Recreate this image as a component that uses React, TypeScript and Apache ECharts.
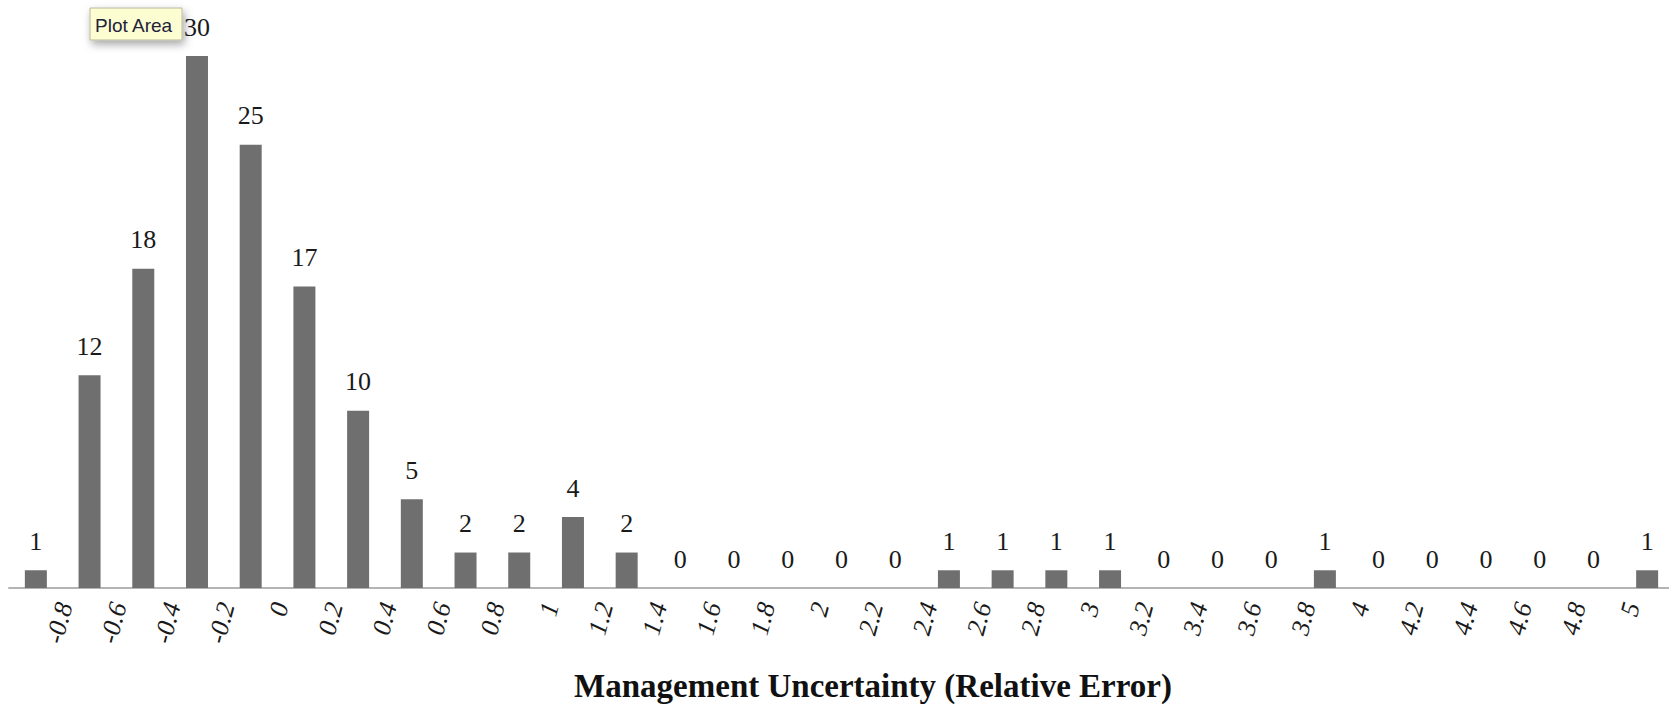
import React, { useEffect, useRef } from "react";
import * as echarts from "echarts";

const edgeLabels: string[] = [
  "-0.8", "-0.6", "-0.4", "-0.2", "0", "0.2", "0.4", "0.6", "0.8", "1",
  "1.2", "1.4", "1.6", "1.8", "2", "2.2", "2.4", "2.6", "2.8", "3",
  "3.2", "3.4", "3.6", "3.8", "4", "4.2", "4.4", "4.6", "4.8", "5",
];

const counts: number[] = [
  1, 12, 18, 30, 25, 17, 10, 5, 2, 2, 4, 2, 0, 0, 0, 0, 0, 1, 1, 1, 1,
  0, 0, 0, 1, 0, 0, 0, 0, 0, 1,
];

const axisTitle = "Management Uncertainty (Relative Error)";
const tooltipText = "Plot Area";

const binNames: string[] = counts.map((_, i) => {
  if (i === 0) return "≤ " + edgeLabels[0];
  if (i === counts.length - 1) return "> " + edgeLabels[edgeLabels.length - 1];
  return edgeLabels[i - 1] + " – " + edgeLabels[i];
});

export default function App() {
  const ref = useRef<HTMLDivElement>(null);
  useEffect(() => {
    if (!ref.current) return;
    const chart = echarts.init(ref.current, undefined, { renderer: "svg" });
    const serif = "'Liberation Serif', 'Times New Roman', serif";
    chart.setOption({
      animation: false,
      backgroundColor: "#ffffff",
      grid: [
        { left: 9, top: 56, width: 1665, bottom: 118, containLabel: false, outerBoundsMode: "none" },
        { left: 10.5, top: 56, width: 1675.5, bottom: 118, containLabel: false, outerBoundsMode: "none" },
      ],
      xAxis: [
        {
          type: "category",
          gridIndex: 0,
          data: binNames,
          boundaryGap: true,
          axisLine: { show: true, lineStyle: { color: "#b4b4b4", width: 2 } },
          axisTick: { show: false },
          axisLabel: { show: false },
        },
        {
          type: "category",
          gridIndex: 1,
          data: ["", ...edgeLabels, ""],
          boundaryGap: false,
          position: "bottom",
          axisLine: { show: false },
          axisTick: { show: false },
          axisLabel: {
            interval: 0,
            rotate: 75,
            margin: 15,
            fontFamily: serif,
            fontStyle: "italic",
            fontSize: 26,
            color: "#1a1a1a",
          },
        },
      ],
      yAxis: [
        { type: "value", gridIndex: 0, min: 0, max: 30, show: false, splitLine: { show: false } },
        { type: "value", gridIndex: 1, min: 0, max: 30, show: false, splitLine: { show: false } },
      ],
      series: [
        {
          type: "bar",
          xAxisIndex: 0,
          yAxisIndex: 0,
          data: counts,
          barWidth: 22,
          itemStyle: { color: "#6f6f6f" },
          label: {
            show: true,
            position: "top",
            distance: 16,
            fontFamily: serif,
            fontSize: 26,
            color: "#1a1a1a",
          },
        },
      ],
      graphic: [
        {
          type: "text",
          x: 873,
          y: 686,
          style: {
            text: axisTitle,
            font: "bold 33px 'Liberation Serif', 'Times New Roman', serif",
            fill: "#111111",
            textAlign: "center",
            textVerticalAlign: "middle",
          },
        },
        {
          type: "rect",
          shape: { x: 90, y: 8, width: 92, height: 32 },
          style: {
            fill: "#fdfdd2",
            stroke: "#b8b8a0",
            lineWidth: 1,
            shadowBlur: 8,
            shadowOffsetX: 2,
            shadowOffsetY: 4,
            shadowColor: "rgba(0,0,0,0.35)",
          },
          z: 100,
        },
        {
          type: "text",
          x: 95,
          y: 25,
          style: {
            text: tooltipText,
            font: "19px 'Liberation Sans', Arial, sans-serif",
            fill: "#22223a",
            textVerticalAlign: "middle",
          },
          z: 101,
        },
      ],
    });
    return () => chart.dispose();
  }, []);
  return <div ref={ref} style={{ width: 1669, height: 706, position: "absolute", left: 0, top: 0 }} />;
}
